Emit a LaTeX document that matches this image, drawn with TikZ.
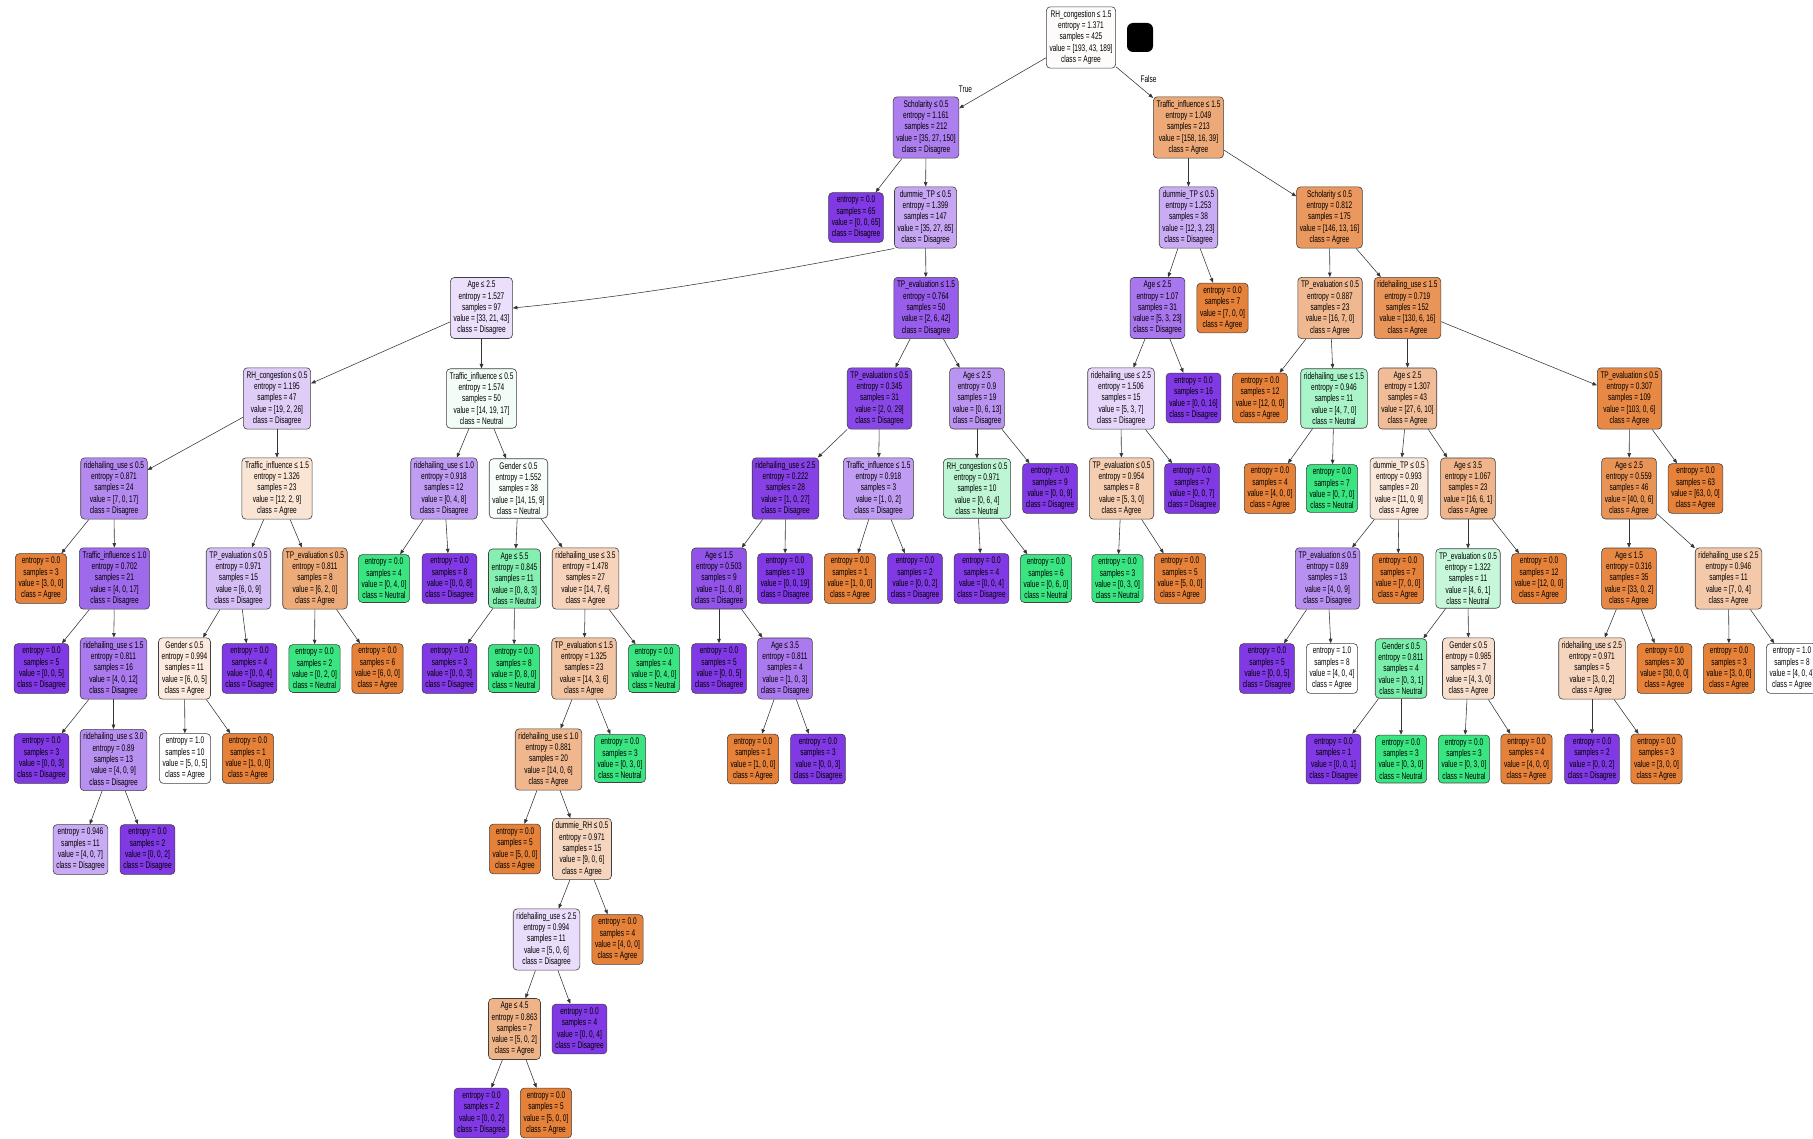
\documentclass[tikz,border=0pt]{standalone}
\usepackage{fontspec}
\newfontfamily\dtfont[FakeStretch=0.68]{Liberation Sans}
\usetikzlibrary{arrows.meta}
\definecolor{cA}{RGB}{229,129,57}
\definecolor{cN}{RGB}{57,229,129}
\definecolor{cD}{RGB}{129,57,229}
\newcommand{\dtin}[5]{#1\\entropy = #2\\samples = #3\\value = [#4]\\class = #5}
\newcommand{\dtlf}[4]{entropy = #1\\samples = #2\\value = [#3]\\class = #4}
\tikzset{
  tn/.style={draw=black!75, rounded corners=4pt, line width=0.6pt, align=center,
    inner xsep=3.2pt, inner ysep=3.6pt, font=\dtfont\fontsize{9.6}{11.3}\selectfont},
  ed/.style={-{Triangle[length=4.5pt,width=3.6pt]}, draw=black!80, line width=0.55pt},
  elab/.style={font=\dtfont\fontsize{9.6}{11.3}\selectfont, inner sep=0pt}
}
\begin{document}
\begin{tikzpicture}[x=1pt,y=-1pt]
\useasboundingbox (0,0) rectangle (1813,1139);
\fill[white] (0,0) rectangle (1813,1139);
\clip (0,0) rectangle (1813,1139);
% level 0-3
\node[tn, fill=cA!2!white] (n1) at (1081,37.5) {\dtin{RH\_congestion ≤ 1.5}{1.371}{425}{193, 43, 189}{Agree}};
\node[fill=black, rounded corners=6pt, minimum width=26pt, minimum height=29pt, inner sep=0pt] (blob) at (1140,37.5) {};
\node[tn, fill=cD!65!white] (n2) at (926,127.5) {\dtin{Scholarity ≤ 0.5}{1.161}{212}{35, 27, 150}{Disagree}};
\node[tn, fill=cA!68!white] (n3) at (1188.5,127.5) {\dtin{Traffic\_influence ≤ 1.5}{1.049}{213}{158, 16, 39}{Agree}};
\node[tn, fill=cD] (n4) at (856,217.5) {\dtlf{0.0}{65}{0, 0, 65}{Disagree}};
\node[tn, fill=cD!45!white] (n5) at (925.5,217.5) {\dtin{dummie\_TP ≤ 0.5}{1.399}{147}{35, 27, 85}{Disagree}};
\node[tn, fill=cD!16!white] (n6) at (481.5,308) {\dtin{Age ≤ 2.5}{1.527}{97}{33, 21, 43}{Disagree}};
\node[tn, fill=cD!82!white] (n7) at (926,308) {\dtin{TP\_evaluation ≤ 1.5}{0.764}{50}{2, 6, 42}{Disagree}};
% left subtree
\node[tn, fill=cD!25!white] (n8) at (277,398.5) {\dtin{RH\_congestion ≤ 0.5}{1.195}{47}{19, 2, 26}{Disagree}};
\node[tn, fill=cN!6!white] (n9) at (481.5,398.5) {\dtin{Traffic\_influence ≤ 0.5}{1.574}{50}{14, 19, 17}{Neutral}};
\node[tn, fill=cD!59!white] (n10) at (114,488.5) {\dtin{ridehailing\_use ≤ 0.5}{0.871}{24}{7, 0, 17}{Disagree}};
\node[tn, fill=cA!21!white] (n11) at (277,488.5) {\dtin{Traffic\_influence ≤ 1.5}{1.326}{23}{12, 2, 9}{Agree}};
\node[tn, fill=cA] (n12) at (41,578.5) {\dtlf{0.0}{3}{3, 0, 0}{Agree}};
\node[tn, fill=cD!76!white] (n13) at (114.5,578.5) {\dtin{Traffic\_influence ≤ 1.0}{0.702}{21}{4, 0, 17}{Disagree}};
\node[tn, fill=cD] (n14) at (41.5,668.5) {\dtlf{0.0}{5}{0, 0, 5}{Disagree}};
\node[tn, fill=cD!67!white] (n15) at (113.5,668.5) {\dtin{ridehailing\_use ≤ 1.5}{0.811}{16}{4, 0, 12}{Disagree}};
\node[tn, fill=cD] (n16) at (41.5,758.5) {\dtlf{0.0}{3}{0, 0, 3}{Disagree}};
\node[tn, fill=cD!56!white] (n17) at (113.5,760) {\dtin{ridehailing\_use ≤ 3.0}{0.89}{13}{4, 0, 9}{Disagree}};
\node[tn, fill=cD!43!white] (n18) at (80.5,849.5) {\dtlf{0.946}{11}{4, 0, 7}{Disagree}};
\node[tn, fill=cD] (n19) at (147.5,849.5) {\dtlf{0.0}{2}{0, 0, 2}{Disagree}};
\node[tn, fill=cD!33!white] (n20) at (238.5,578.5) {\dtin{TP\_evaluation ≤ 0.5}{0.971}{15}{6, 0, 9}{Disagree}};
\node[tn, fill=cA!67!white] (n21) at (315,578.5) {\dtin{TP\_evaluation ≤ 0.5}{0.811}{8}{6, 2, 0}{Agree}};
\node[tn, fill=cA!17!white] (n22) at (184.5,668.5) {\dtin{Gender ≤ 0.5}{0.994}{11}{6, 0, 5}{Agree}};
\node[tn, fill=cD] (n23) at (249.5,668.5) {\dtlf{0.0}{4}{0, 0, 4}{Disagree}};
\node[tn, fill=white] (n24) at (185,758.5) {\dtlf{1.0}{10}{5, 0, 5}{Agree}};
\node[tn, fill=cA] (n25) at (248,758.5) {\dtlf{0.0}{1}{1, 0, 0}{Agree}};
\node[tn, fill=cN] (n26) at (314.5,668.5) {\dtlf{0.0}{2}{0, 2, 0}{Neutral}};
\node[tn, fill=cA] (n27) at (377.5,668.5) {\dtlf{0.0}{6}{6, 0, 0}{Agree}};
\node[tn, fill=cD!50!white] (n28) at (444,488.5) {\dtin{ridehailing\_use ≤ 1.0}{0.918}{12}{0, 4, 8}{Disagree}};
\node[tn, fill=cN!4!white] (n29) at (518.5,488.5) {\dtin{Gender ≤ 0.5}{1.552}{38}{14, 15, 9}{Neutral}};
\node[tn, fill=cN] (n30) at (384,578.5) {\dtlf{0.0}{4}{0, 4, 0}{Neutral}};
\node[tn, fill=cD] (n31) at (449.5,578.5) {\dtlf{0.0}{8}{0, 0, 8}{Disagree}};
\node[tn, fill=cN!62!white] (n32) at (514.5,578.5) {\dtin{Age ≤ 5.5}{0.845}{11}{0, 8, 3}{Neutral}};
\node[tn, fill=cA!35!white] (n33) at (585.5,578.5) {\dtin{ridehailing\_use ≤ 3.5}{1.478}{27}{14, 7, 6}{Agree}};
\node[tn, fill=cD] (n34) at (449.5,668.5) {\dtlf{0.0}{3}{0, 0, 3}{Disagree}};
\node[tn, fill=cN] (n35) at (514,668.5) {\dtlf{0.0}{8}{0, 8, 0}{Neutral}};
\node[tn, fill=cA!47!white] (n36) at (584,668.5) {\dtin{TP\_evaluation ≤ 1.5}{1.325}{23}{14, 3, 6}{Agree}};
\node[tn, fill=cN] (n37) at (654,668.5) {\dtlf{0.0}{4}{0, 4, 0}{Neutral}};
\node[tn, fill=cA!57!white] (n38) at (548.5,759.5) {\dtin{ridehailing\_use ≤ 1.0}{0.881}{20}{14, 0, 6}{Agree}};
\node[tn, fill=cN] (n39) at (620,758.5) {\dtlf{0.0}{3}{0, 3, 0}{Neutral}};
\node[tn, fill=cA] (n40) at (515,849) {\dtlf{0.0}{5}{5, 0, 0}{Agree}};
\node[tn, fill=cA!33!white] (n41) at (582,849) {\dtin{dummie\_RH ≤ 0.5}{0.971}{15}{9, 0, 6}{Agree}};
\node[tn, fill=cD!17!white] (n42) at (546.5,939.5) {\dtin{ridehailing\_use ≤ 2.5}{0.994}{11}{5, 0, 6}{Disagree}};
\node[tn, fill=cA] (n43) at (617.5,939.5) {\dtlf{0.0}{4}{4, 0, 0}{Agree}};
\node[tn, fill=cA!60!white] (n44) at (514.5,1029) {\dtin{Age ≤ 4.5}{0.863}{7}{5, 0, 2}{Agree}};
\node[tn, fill=cD] (n45) at (579.5,1029) {\dtlf{0.0}{4}{0, 0, 4}{Disagree}};
\node[tn, fill=cD] (n46) at (481.5,1113) {\dtlf{0.0}{2}{0, 0, 2}{Disagree}};
\node[tn, fill=cA] (n47) at (546,1113) {\dtlf{0.0}{5}{5, 0, 0}{Agree}};
% middle subtree
\node[tn, fill=cD!93!white] (n48) at (879.5,398.5) {\dtin{TP\_evaluation ≤ 0.5}{0.345}{31}{2, 0, 29}{Disagree}};
\node[tn, fill=cD!54!white] (n49) at (977,398.5) {\dtin{Age ≤ 2.5}{0.9}{19}{0, 6, 13}{Disagree}};
\node[tn, fill=cD!96!white] (n50) at (785.5,488.5) {\dtin{ridehailing\_use ≤ 2.5}{0.222}{28}{1, 0, 27}{Disagree}};
\node[tn, fill=cD!50!white] (n51) at (878.5,488.5) {\dtin{Traffic\_influence ≤ 1.5}{0.918}{3}{1, 0, 2}{Disagree}};
\node[tn, fill=cD!87!white] (n52) at (719,578.5) {\dtin{Age ≤ 1.5}{0.503}{9}{1, 0, 8}{Disagree}};
\node[tn, fill=cD] (n53) at (785,578.5) {\dtlf{0.0}{19}{0, 0, 19}{Disagree}};
\node[tn, fill=cD] (n54) at (719,668.5) {\dtlf{0.0}{5}{0, 0, 5}{Disagree}};
\node[tn, fill=cD!67!white] (n55) at (785,668.5) {\dtin{Age ≤ 3.5}{0.811}{4}{1, 0, 3}{Disagree}};
\node[tn, fill=cA] (n56) at (753,759) {\dtlf{0.0}{1}{1, 0, 0}{Agree}};
\node[tn, fill=cD] (n57) at (818,759) {\dtlf{0.0}{3}{0, 0, 3}{Disagree}};
\node[tn, fill=cA] (n58) at (850,578.5) {\dtlf{0.0}{1}{1, 0, 0}{Agree}};
\node[tn, fill=cD] (n59) at (915,578.5) {\dtlf{0.0}{2}{0, 0, 2}{Disagree}};
\node[tn, fill=cN!33!white] (n60) at (977,488.5) {\dtin{RH\_congestion ≤ 0.5}{0.971}{10}{0, 6, 4}{Neutral}};
\node[tn, fill=cD] (n61) at (1050,488.5) {\dtlf{0.0}{9}{0, 0, 9}{Disagree}};
\node[tn, fill=cD] (n62) at (981.5,578.5) {\dtlf{0.0}{4}{0, 0, 4}{Disagree}};
\node[tn, fill=cN] (n63) at (1046,578.5) {\dtlf{0.0}{6}{0, 6, 0}{Neutral}};
% right subtree
\node[tn, fill=cD!42!white] (n64) at (1188.5,217.5) {\dtin{dummie\_TP ≤ 0.5}{1.253}{38}{12, 3, 23}{Disagree}};
\node[tn, fill=cA!82!white] (n65) at (1329.5,217.5) {\dtin{Scholarity ≤ 0.5}{0.812}{175}{146, 13, 16}{Agree}};
\node[tn, fill=cD!69!white] (n66) at (1157.5,308) {\dtin{Age ≤ 2.5}{1.07}{31}{5, 3, 23}{Disagree}};
\node[tn, fill=cA] (n67) at (1222.5,308) {\dtlf{0.0}{7}{7, 0, 0}{Agree}};
\node[tn, fill=cD!20!white] (n68) at (1121,398.5) {\dtin{ridehailing\_use ≤ 2.5}{1.506}{15}{5, 3, 7}{Disagree}};
\node[tn, fill=cD] (n69) at (1193.5,398) {\dtlf{0.0}{16}{0, 0, 16}{Disagree}};
\node[tn, fill=cA!40!white] (n70) at (1121.5,488.5) {\dtin{TP\_evaluation ≤ 0.5}{0.954}{8}{5, 3, 0}{Agree}};
\node[tn, fill=cD] (n71) at (1192,488.5) {\dtlf{0.0}{7}{0, 0, 7}{Disagree}};
\node[tn, fill=cN] (n72) at (1117.5,578.5) {\dtlf{0.0}{3}{0, 3, 0}{Neutral}};
\node[tn, fill=cA] (n73) at (1180,578.5) {\dtlf{0.0}{5}{5, 0, 0}{Agree}};
\node[tn, fill=cA!56!white] (n74) at (1330,308) {\dtin{TP\_evaluation ≤ 0.5}{0.887}{23}{16, 7, 0}{Agree}};
\node[tn, fill=cA!84!white] (n75) at (1407.5,308) {\dtin{ridehailing\_use ≤ 1.5}{0.719}{152}{130, 6, 16}{Agree}};
\node[tn, fill=cA] (n76) at (1260,398) {\dtlf{0.0}{12}{12, 0, 0}{Agree}};
\node[tn, fill=cN!43!white] (n77) at (1334,398.5) {\dtin{ridehailing\_use ≤ 1.5}{0.946}{11}{4, 7, 0}{Neutral}};
\node[tn, fill=cA] (n78) at (1270,488.5) {\dtlf{0.0}{4}{4, 0, 0}{Agree}};
\node[tn, fill=cN] (n79) at (1332,488.5) {\dtlf{0.0}{7}{0, 7, 0}{Neutral}};
\node[tn, fill=cA!52!white] (n80) at (1407.5,398.5) {\dtin{Age ≤ 2.5}{1.307}{43}{27, 6, 10}{Agree}};
\node[tn, fill=cA!94!white] (n81) at (1629.5,398.5) {\dtin{TP\_evaluation ≤ 0.5}{0.307}{109}{103, 0, 6}{Agree}};
\node[tn, fill=cA!18!white] (n82) at (1399,488.5) {\dtin{dummie\_TP ≤ 0.5}{0.993}{20}{11, 0, 9}{Agree}};
\node[tn, fill=cA!59!white] (n83) at (1468,488.5) {\dtin{Age ≤ 3.5}{1.067}{23}{16, 6, 1}{Agree}};
\node[tn, fill=cD!56!white] (n84) at (1327.5,578.5) {\dtin{TP\_evaluation ≤ 0.5}{0.89}{13}{4, 0, 9}{Disagree}};
\node[tn, fill=cA] (n85) at (1398,578.5) {\dtlf{0.0}{7}{7, 0, 0}{Agree}};
\node[tn, fill=cD] (n86) at (1267,668.5) {\dtlf{0.0}{5}{0, 0, 5}{Disagree}};
\node[tn, fill=white] (n87) at (1332,668.5) {\dtlf{1.0}{8}{4, 0, 4}{Agree}};
\node[tn, fill=cN!29!white] (n88) at (1468,578.5) {\dtin{TP\_evaluation ≤ 0.5}{1.322}{11}{4, 6, 1}{Neutral}};
\node[tn, fill=cA] (n89) at (1539,578.5) {\dtlf{0.0}{12}{12, 0, 0}{Agree}};
\node[tn, fill=cN!67!white] (n90) at (1401,668.5) {\dtin{Gender ≤ 0.5}{0.811}{4}{0, 3, 1}{Neutral}};
\node[tn, fill=cA!25!white] (n91) at (1468.5,668.5) {\dtin{Gender ≤ 0.5}{0.985}{7}{4, 3, 0}{Agree}};
\node[tn, fill=cD] (n92) at (1333.5,759) {\dtlf{0.0}{1}{0, 0, 1}{Disagree}};
\node[tn, fill=cN] (n93) at (1401,759) {\dtlf{0.0}{3}{0, 3, 0}{Neutral}};
\node[tn, fill=cN] (n94) at (1464,759) {\dtlf{0.0}{3}{0, 3, 0}{Neutral}};
\node[tn, fill=cA] (n95) at (1526.5,759) {\dtlf{0.0}{4}{4, 0, 0}{Agree}};
\node[tn, fill=cA!85!white] (n96) at (1629,488.5) {\dtin{Age ≤ 2.5}{0.559}{46}{40, 0, 6}{Agree}};
\node[tn, fill=cA] (n97) at (1695.5,488.5) {\dtlf{0.0}{63}{63, 0, 0}{Agree}};
\node[tn, fill=cA!94!white] (n98) at (1629,578.5) {\dtin{Age ≤ 1.5}{0.316}{35}{33, 0, 2}{Agree}};
\node[tn, fill=cA!43!white] (n99) at (1728.5,578.5) {\dtin{ridehailing\_use ≤ 2.5}{0.946}{11}{7, 0, 4}{Agree}};
\node[tn, fill=cA!33!white] (n100) at (1592,668.5) {\dtin{ridehailing\_use ≤ 2.5}{0.971}{5}{3, 0, 2}{Agree}};
\node[tn, fill=cA] (n101) at (1664.5,668.5) {\dtlf{0.0}{30}{30, 0, 0}{Agree}};
\node[tn, fill=cD] (n102) at (1592,759) {\dtlf{0.0}{2}{0, 0, 2}{Disagree}};
\node[tn, fill=cA] (n103) at (1656.5,759) {\dtlf{0.0}{3}{3, 0, 0}{Agree}};
\node[tn, fill=cA] (n104) at (1729,668.5) {\dtlf{0.0}{3}{3, 0, 0}{Agree}};
\node[tn, fill=white] (n105) at (1792,668.5) {\dtlf{1.0}{8}{4, 0, 4}{Agree}};
% edges
\foreach \a/\b in {1/2,1/3,2/4,2/5,5/7,6/8,6/9,8/10,8/11,10/12,10/13,13/14,13/15,15/16,15/17,17/18,17/19,
  11/20,11/21,20/22,20/23,22/24,22/25,21/26,21/27,9/28,9/29,28/30,28/31,29/32,29/33,32/34,32/35,33/36,33/37,
  36/38,36/39,38/40,38/41,41/42,41/43,42/44,42/45,44/46,44/47,7/48,7/49,48/50,48/51,50/52,50/53,52/54,52/55,
  55/56,55/57,51/58,51/59,49/60,49/61,60/62,60/63,3/64,3/65,64/66,64/67,66/68,66/69,68/70,68/71,70/72,70/73,
  65/74,65/75,74/76,74/77,77/78,77/79,75/80,75/81,80/82,80/83,82/84,82/85,84/86,84/87,83/88,83/89,88/90,88/91,
  90/92,90/93,91/94,91/95,81/96,81/97,96/98,96/99,98/100,98/101,100/102,100/103,99/104,99/105}
  \draw[ed] (n\a) -- (n\b);
\draw[ed] (n5.south west) .. controls (763,274) and (644,295) .. (n6.east);
\node[elab] (ltrue) at (965.5,89.5) {True};
\node[elab] (lfalse) at (1148.5,79) {False};
\end{tikzpicture}
\end{document}
